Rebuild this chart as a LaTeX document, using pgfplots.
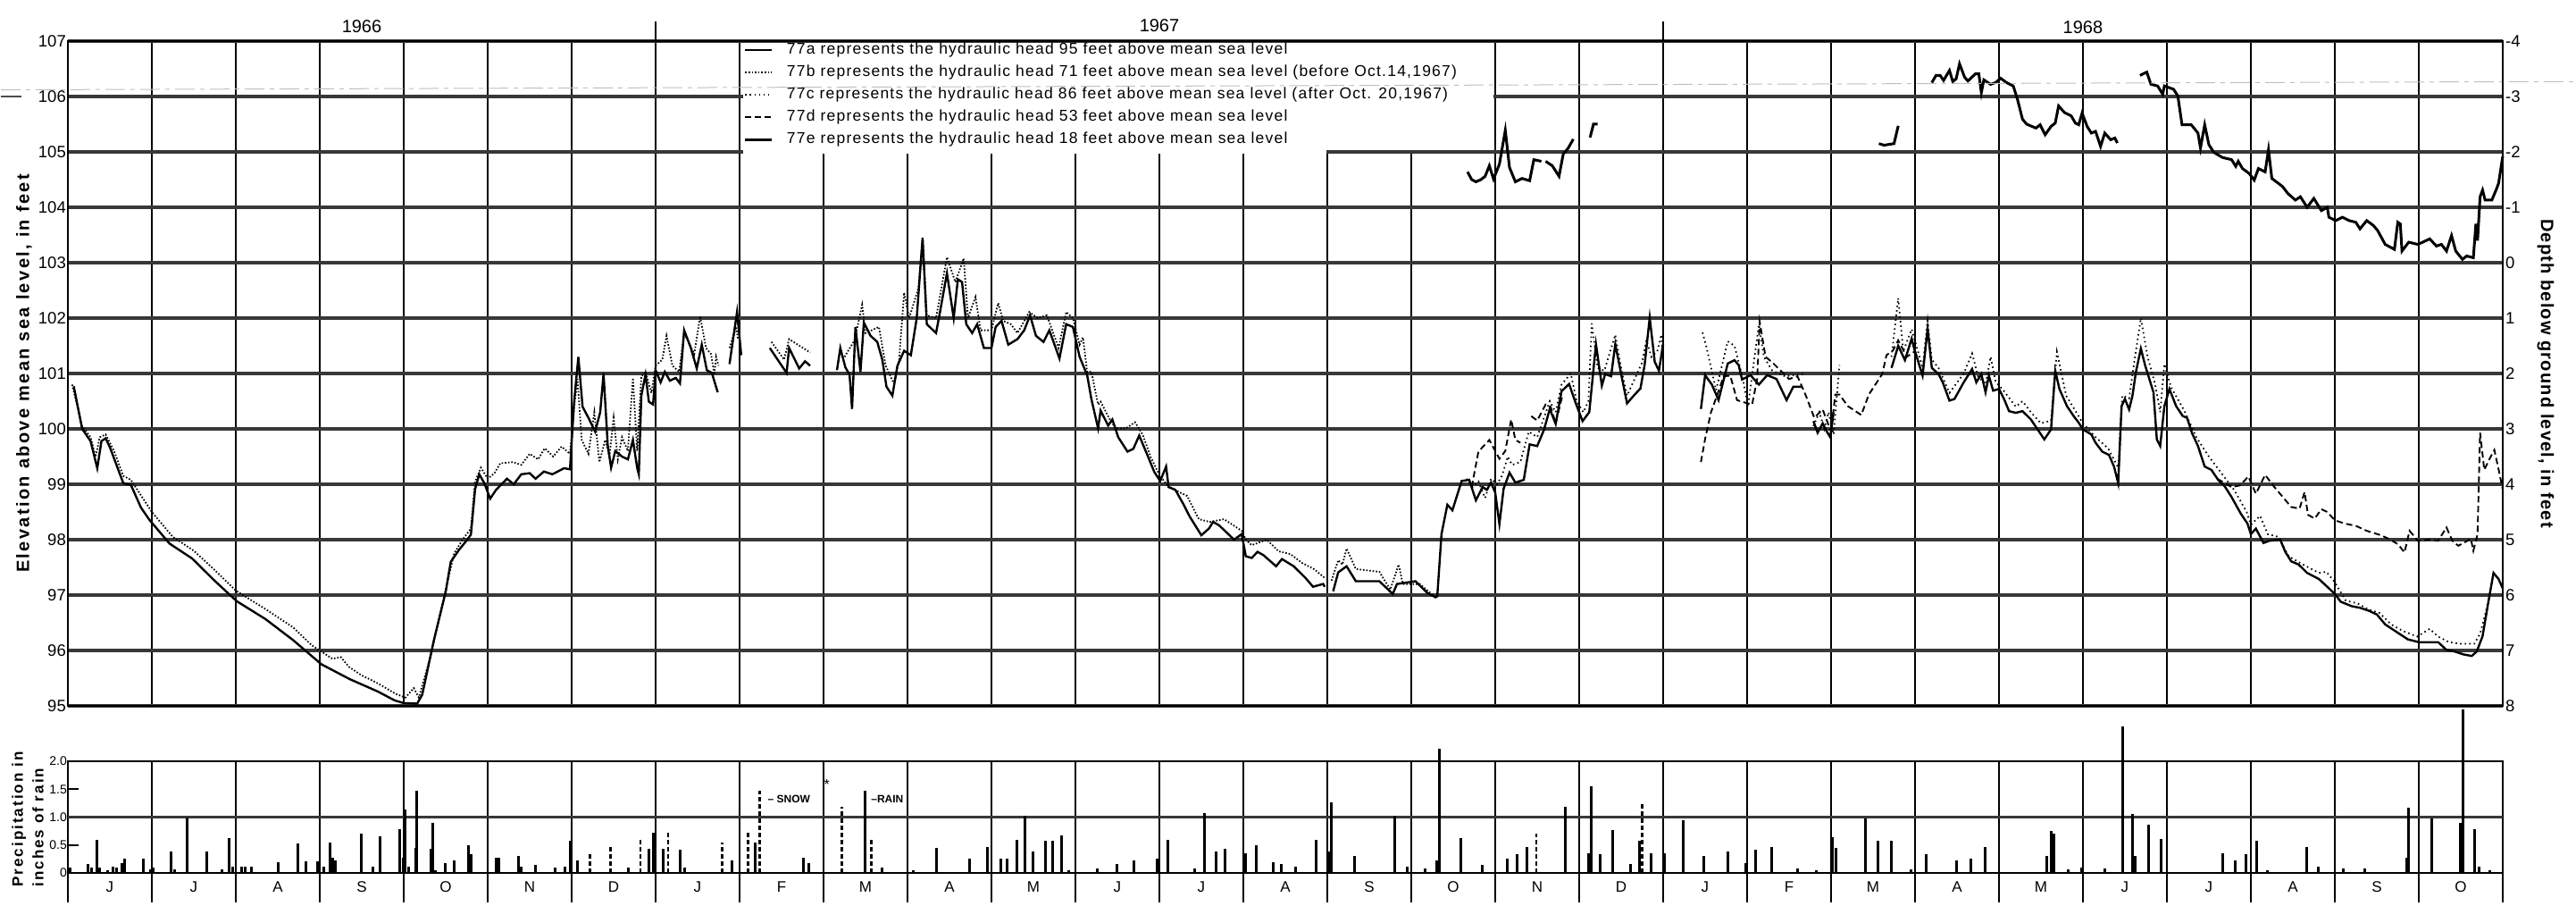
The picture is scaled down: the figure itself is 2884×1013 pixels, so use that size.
\documentclass[border=0pt]{standalone}
\usepackage{fontspec}
\setmainfont{Liberation Sans}
\newfontfamily\lblfont[LetterSpace=12]{Liberation Sans}
\newfontfamily\rlblfont[LetterSpace=6]{Liberation Sans}
\newfontfamily\legfont[LetterSpace=7]{Liberation Sans}
\usepackage{pgfplots}
\pgfplotsset{compat=1.18}
\newcommand{\fs}[1]{\fontsize{#1}{#1}\selectfont}

\begin{document}
\begin{tikzpicture}[x=1pt,y=1pt]
\useasboundingbox (-76,-223) rectangle (2808,790);

% ---------- water levels ----------
\begin{axis}[
  name=main, at={(0,0)}, anchor=south west,
  scale only axis, width=2726pt, height=744pt,
  xmin=0, xmax=29, ymin=95, ymax=107,
  clip=false, unbounded coords=jump,
  xtick={0,...,29}, xticklabels={},
  ytick={95,...,107},
  yticklabels={95,96,97,98,99,100,101,102,103,104,105,106,107},
  yticklabel style={font=\fs{18.5}, inner sep=2pt},
  major tick length=0pt,
  xmajorgrids, ymajorgrids,
  x grid style={black, line width=1.8pt},
  y grid style={black!78, line width=3.2pt},
  axis line style={black, line width=2pt},
  legend style={at={(axis cs:8.05,107.04)}, anchor=north west, draw=none, fill=none,
    font=\fs{17.5}\legfont, inner sep=0pt, row sep=0pt,
    nodes={inner xsep=3pt, inner ysep=4pt, text height=13pt, text depth=4pt},
    cells={anchor=west},
    /tikz/every odd column/.append style={column sep=12pt}},
  legend image code/.code={\draw[#1] (0pt,0pt) -- (30pt,0pt);},
]
\fill[white] (axis cs:8.04,106.965) rectangle (axis cs:16.975,105.035);
\fill[white] (axis cs:8.04,105.04) rectangle (axis cs:14.985,104.965);

% 77a
\addplot[black, line width=2.4pt] coordinates {
(0.07,100.77) (0.17,100.0) (0.27,99.78) (0.35,99.29) (0.40,99.78) (0.45,99.83) (0.5,99.67)
(0.66,99.02) (0.75,98.99) (0.87,98.58) (0.97,98.36) (1.21,97.93) (1.48,97.66) (1.74,97.27)
(2.01,96.89) (2.35,96.57) (2.68,96.19) (3.02,95.75) (3.36,95.48) (3.69,95.26) (3.89,95.10)
(4.0,95.05) (4.16,95.04) (4.22,95.2) (4.36,96.19) (4.50,97.06) (4.56,97.6) (4.66,97.82)
(4.72,97.93) (4.80,98.09) (4.85,98.91) (4.90,99.18) (4.96,99.02) (5.03,98.74) (5.1,98.9)
(5.23,99.1) (5.31,99.0) (5.4,99.18) (5.5,99.2) (5.57,99.1) (5.67,99.23) (5.77,99.18)
(5.91,99.29) (5.98,99.27)
(6.03,100.5) (6.08,101.3) (6.13,100.4) (6.2,100.2) (6.28,99.95) (6.34,100.3) (6.38,101.0)
(6.43,99.7) (6.47,99.3) (6.52,99.6) (6.6,99.5) (6.67,99.45) (6.73,99.8) (6.78,99.3) (6.8,99.18)
(6.83,100.6) (6.88,100.98) (6.92,100.49) (6.97,100.44) (7.0,101.06) (7.06,100.84) (7.11,101.03)
(7.17,100.87) (7.24,100.92) (7.29,100.82) (7.34,101.78) (7.42,101.46) (7.49,101.09)
(7.55,101.52) (7.61,101.06) (7.67,101.01) (7.74,100.66) (7.8,nan)
(7.88,101.17) (7.97,102.11) (8.02,101.33) (8.1,nan)
(8.36,101.46) (8.56,101.01) (8.59,101.46) (8.71,101.09) (8.78,101.22) (8.84,101.14) (9.0,nan)
(9.16,101.06) (9.2,101.46) (9.26,101.11) (9.31,100.98) (9.34,100.36) (9.38,101.84) (9.44,101.03)
(9.48,101.92) (9.56,101.68) (9.64,101.57) (9.7,101.25) (9.75,100.76) (9.82,100.6) (9.88,101.14)
(9.96,101.41) (10.04,101.33) (10.11,102.0) (10.18,103.45) (10.23,101.89) (10.34,101.73)
(10.38,102.05) (10.47,102.81) (10.55,102.0) (10.6,102.7) (10.65,102.65) (10.7,101.89)
(10.77,101.73) (10.83,101.89) (10.91,101.46) (11.0,101.46) (11.05,101.84) (11.12,101.95)
(11.2,101.52) (11.31,101.62) (11.39,101.78) (11.46,102.05) (11.53,101.68) (11.62,101.57)
(11.69,101.78) (11.81,101.27) (11.89,101.89) (11.97,101.84) (12.05,101.3) (12.14,100.97)
(12.19,100.54) (12.27,100.01) (12.3,100.33) (12.39,100.06) (12.44,100.17) (12.51,99.85)
(12.62,99.59) (12.69,99.64) (12.76,99.88) (12.87,99.48) (12.94,99.22) (13.01,99.06)
(13.08,99.32) (13.11,98.95) (13.19,98.9) (13.29,98.63) (13.36,98.42) (13.5,98.08) (13.59,98.2)
(13.64,98.32) (13.71,98.26) (13.78,98.16) (13.89,98.0) (13.98,98.1) (14.03,97.7) (14.1,97.67)
(14.17,97.78) (14.24,97.72) (14.39,97.52) (14.46,97.65) (14.6,97.52) (14.74,97.31)
(14.83,97.15) (14.95,97.2) (14.97,97.15) (15.02,nan)
(15.07,97.07) (15.13,97.41) (15.23,97.52) (15.34,97.25) (15.62,97.25) (15.78,97.02)
(15.83,97.2) (16.05,97.25) (16.19,97.04) (16.29,96.96) (16.31,96.98) (16.36,98.1) (16.43,98.63)
(16.49,98.53) (16.6,99.06) (16.69,99.08) (16.77,98.71) (16.85,98.95) (16.9,98.9) (16.95,99.03)
(17.0,98.85) (17.05,98.28) (17.1,98.92) (17.17,99.21) (17.24,99.03) (17.34,99.08) (17.41,99.72)
(17.5,99.69) (17.58,99.98) (17.65,100.36) (17.72,100.09) (17.79,100.68) (17.88,100.81)
(17.96,100.46) (18.04,100.14) (18.12,100.3) (18.2,101.53) (18.27,100.78) (18.31,100.99)
(18.38,100.95) (18.43,101.53) (18.5,100.99) (18.57,100.46) (18.65,100.6) (18.73,100.73)
(18.78,101.16) (18.84,102.01) (18.9,101.21) (18.95,101.05) (19.0,101.53) (19.2,nan)
(19.45,100.36) (19.5,100.97) (19.58,100.8) (19.66,100.52) (19.77,101.18) (19.85,101.24)
(19.9,101.15) (19.94,100.89) (20.04,100.97) (20.14,100.8) (20.24,100.97) (20.35,100.9)
(20.47,100.52) (20.55,100.76) (20.65,100.76) (20.72,nan)
(20.79,100.14) (20.84,99.93) (20.9,100.1) (20.95,99.95) (20.99,99.85) (21.03,100.3) (21.3,nan)
(21.72,101.1) (21.8,101.5) (21.88,101.24) (21.96,101.63) (21.99,101.45) (22.09,100.96)
(22.15,101.81) (22.2,101.1) (22.28,100.99) (22.33,100.84) (22.41,100.51) (22.47,100.54)
(22.58,100.84) (22.63,100.96) (22.68,101.08) (22.73,100.84) (22.79,100.99) (22.84,100.66)
(22.88,100.96) (22.93,100.69) (23.0,100.72) (23.06,100.54) (23.12,100.32) (23.2,100.29)
(23.28,100.32) (23.38,100.17) (23.46,99.99) (23.54,99.81) (23.62,99.99) (23.67,101.05)
(23.72,100.72) (23.81,100.41) (23.89,100.23) (23.95,100.11) (24.0,99.99) (24.1,99.9)
(24.15,99.75) (24.23,99.59) (24.31,99.53) (24.37,99.32) (24.42,99.02) (24.46,100.41)
(24.5,100.54) (24.55,100.35) (24.59,100.6) (24.63,101.02) (24.69,101.45) (24.74,101.15)
(24.84,100.66) (24.88,99.81) (24.92,99.69) (24.97,100.41) (25.03,100.72) (25.11,100.41)
(25.19,100.23) (25.24,100.2) (25.3,99.92) (25.37,99.69) (25.45,99.32) (25.53,99.26)
(25.61,99.08) (25.69,98.96) (25.77,98.77) (25.88,98.47) (25.96,98.29) (26.0,98.1) (26.06,98.2)
(26.15,97.94) (26.22,97.98) (26.35,98.0) (26.41,97.78) (26.48,97.61) (26.57,97.55) (26.67,97.4)
(26.81,97.29) (26.91,97.15) (27.0,97.02) (27.07,96.88) (27.2,96.8) (27.3,96.77) (27.4,96.72)
(27.5,96.65) (27.6,96.47) (27.73,96.34) (27.87,96.2) (28.0,96.15) (28.1,96.15) (28.23,96.15)
(28.33,96.01) (28.43,95.98) (28.53,95.93) (28.63,95.9) (28.69,95.98) (28.76,96.26) (28.82,96.8)
(28.89,97.4) (28.95,97.29) (29.0,97.12)};
\addlegendentry{77a represents the hydraulic head 95 feet above mean sea level}

% 77b
\addplot[black, line width=1.8pt, dash pattern=on 1.6pt off 2pt] coordinates {
(0.05,100.8) (0.17,100.05) (0.27,99.85) (0.33,99.5) (0.38,99.85) (0.45,99.9) (0.55,99.6)
(0.66,99.15) (0.75,99.08) (1.0,98.5) (1.25,98.05) (1.5,97.8) (1.75,97.45) (2.0,97.08)
(2.35,96.75) (2.68,96.42) (2.9,96.1) (3.05,95.95) (3.15,95.85) (3.25,95.88) (3.35,95.7)
(3.5,95.55) (3.7,95.4) (3.9,95.22) (4.02,95.15) (4.12,95.32) (4.18,95.15) (4.32,95.9)
(4.5,97.1) (4.6,97.75) (4.7,98.0) (4.8,98.2) (4.85,99.05) (4.92,99.3) (5.0,99.1) (5.08,99.2)
(5.15,99.38) (5.3,99.4) (5.4,99.35) (5.5,99.55) (5.6,99.45) (5.68,99.65) (5.78,99.5)
(5.88,99.68) (5.98,99.55)
(6.03,100.4) (6.07,100.9) (6.12,99.8) (6.2,99.55) (6.27,100.3) (6.33,99.4) (6.4,99.8)
(6.45,99.5) (6.5,100.2) (6.55,99.45) (6.6,99.85) (6.67,99.6) (6.73,100.92) (6.78,99.6)
(6.83,100.95) (6.88,101.03) (6.95,100.65) (7.0,101.14) (7.08,101.25) (7.13,101.68) (7.2,101.14)
(7.28,101.03) (7.34,101.73) (7.46,101.35) (7.53,102.03) (7.6,101.46) (7.66,101.35) (7.7,100.98)
(7.72,101.3) (7.75,101.14) (7.8,nan)
(7.88,101.46) (7.96,101.84) (7.98,101.62) (8.1,nan)
(8.38,101.57) (8.53,101.25) (8.59,101.62) (8.84,101.38) (9.0,nan)
(9.25,101.3) (9.37,101.6) (9.46,102.24) (9.5,101.73) (9.66,101.84) (9.74,101.14) (9.84,100.81)
(9.9,101.25) (9.96,102.46) (10.02,102.0) (10.13,102.54) (10.18,103.45) (10.23,102.05)
(10.34,102.0) (10.47,103.1) (10.57,102.65) (10.67,103.08) (10.72,102.0) (10.81,102.38)
(10.87,101.78) (11.0,101.78) (11.08,102.27) (11.14,101.95) (11.23,101.89) (11.31,101.73)
(11.45,102.11) (11.55,102.0) (11.66,102.05) (11.8,101.46) (11.89,102.11) (11.97,102.0)
(12.05,101.52) (12.09,101.65) (12.14,101.03) (12.19,101.03) (12.27,100.44) (12.3,100.49)
(12.41,100.17) (12.48,100.01) (12.6,100.01) (12.71,100.12) (12.8,99.9) (12.9,99.48) (13.0,99.17)
(13.11,98.95) (13.33,98.79) (13.47,98.37) (13.6,98.32) (13.77,98.37) (13.98,98.16) (14.03,98.0)
(14.1,97.9) (14.28,98.0) (14.42,97.79) (14.56,97.74) (14.7,97.58) (14.84,97.47) (14.97,97.31)
(15.01,nan)
(15.05,97.26) (15.13,97.63) (15.18,97.55) (15.23,97.84) (15.34,97.47) (15.62,97.42)
(15.75,97.1) (15.85,97.55) (15.9,97.2) (16.1,97.2) (16.29,96.96) (16.33,97.0)};
\addlegendentry{77b represents the hydraulic head 71 feet above mean sea level (before Oct.14,1967)}

% 77c
\addplot[black, line width=1.8pt, dash pattern=on 1.6pt off 3.5pt] coordinates {
(16.66,99.1) (16.73,98.95) (16.8,99.05) (16.88,98.75) (16.95,99.1) (17.02,99.0) (17.08,99.15)
(17.15,99.5) (17.2,99.35) (17.3,99.4) (17.4,99.95) (17.5,99.85) (17.58,100.2) (17.65,100.5)
(17.72,100.3) (17.79,100.8) (17.9,101.0) (17.97,100.5) (18.05,100.3) (18.11,100.5) (18.15,101.9)
(18.22,101.1) (18.3,101.05) (18.43,101.7) (18.5,101.1) (18.57,100.6) (18.66,100.9) (18.75,101.2)
(18.8,101.6) (18.86,101.3) (18.93,101.4) (18.98,101.7) (19.0,101.2) (19.2,nan)
(19.47,101.74) (19.52,101.45) (19.63,100.7) (19.77,101.58) (19.85,101.5) (19.95,100.9)
(20.01,100.4) (20.14,101.88) (20.2,101.3) (20.3,101.05) (20.45,100.95) (20.67,100.99) (20.72,nan)
(20.79,100.05) (20.86,100.3) (20.92,100.0) (20.97,100.3) (21.03,99.9) (21.1,101.15) (21.3,nan)
(21.72,101.3) (21.8,102.36) (21.86,101.4) (21.96,101.8) (22.09,101.1) (22.15,101.95)
(22.2,101.25) (22.28,101.1) (22.41,100.65) (22.58,101.0) (22.68,101.36) (22.75,100.95)
(22.84,100.8) (22.9,101.3) (22.96,100.85) (23.05,100.7) (23.2,100.4) (23.28,100.5) (23.38,100.3)
(23.5,100.1) (23.62,100.15) (23.69,101.39) (23.8,100.6) (23.9,100.35) (24.0,100.1) (24.15,99.85)
(24.3,99.65) (24.42,99.3) (24.47,100.6) (24.55,100.55) (24.62,101.3) (24.69,102.0) (24.77,101.3)
(24.86,100.8) (24.92,100.3) (24.97,101.17) (25.05,100.75) (25.2,100.35) (25.35,99.85)
(25.5,99.5) (25.65,99.2) (25.8,98.9) (25.95,98.5) (26.0,98.27) (26.11,98.43) (26.2,98.1)
(26.33,98.05) (26.45,97.7) (26.61,97.56) (26.81,97.4) (26.9,97.42) (27.0,97.23) (27.13,96.9)
(27.27,96.85) (27.4,96.74) (27.53,96.68) (27.67,96.47) (27.8,96.36) (27.98,96.25) (28.13,96.39)
(28.23,96.25) (28.36,96.15) (28.5,96.12) (28.66,96.12) (28.73,96.3) (28.8,96.7) (28.86,97.12)};
\addlegendentry{77c represents the hydraulic head 86 feet above mean sea level (after Oct. 20,1967)}

% 77d
\addplot[black, line width=1.9pt, dash pattern=on 7pt off 4pt] coordinates {
(16.72,98.95) (16.8,99.59) (16.93,99.8) (17.05,99.46) (17.12,99.6) (17.19,100.17) (17.24,99.8)
(17.3,99.75) (17.36,nan)
(17.43,100.23) (17.5,100.15) (17.6,100.44) (17.66,100.4) (17.72,100.1) (17.8,100.6) (19.2,nan)
(19.45,99.4) (19.5,99.82) (19.57,100.3) (19.66,100.68) (19.72,100.95) (19.8,100.96)
(19.88,100.52) (19.96,100.48) (20.06,100.44) (20.12,100.9) (20.15,101.93) (20.22,101.3)
(20.3,101.2) (20.4,101.05) (20.5,100.9) (20.6,100.95) (20.7,100.6) (20.8,100.2) (20.9,100.35)
(21.0,99.95) (21.05,100.62) (21.1,100.62) (21.2,100.41) (21.36,100.25) (21.45,100.62)
(21.61,100.99) (21.66,101.33) (21.74,101.42) (21.8,101.6) (21.9,101.3) (22.0,101.4) (23.0,nan)
(25.6,99.1) (25.77,98.95) (25.87,98.98) (25.97,99.14) (26.06,98.83) (26.17,99.17) (26.28,98.95)
(26.38,98.77) (26.48,98.59) (26.58,98.56) (26.64,98.86) (26.68,98.45) (26.76,98.38)
(26.84,98.55) (26.91,98.5) (27.0,98.35) (27.12,98.29) (27.25,98.25) (27.38,98.16) (27.55,98.08)
(27.65,98.01) (27.75,97.92) (27.83,97.77) (27.89,98.16) (27.99,97.98) (28.13,98.0) (28.23,97.98)
(28.33,98.22) (28.4,97.98) (28.47,97.89) (28.58,97.98) (28.62,98.02) (28.65,97.8) (28.7,98.1)
(28.73,99.93) (28.78,99.26) (28.84,99.45) (28.9,99.62) (28.96,99.2) (29.0,98.9)};
\addlegendentry{77d represents the hydraulic head 53 feet above mean sea level}

% 77e
\addplot[black, line width=3pt] coordinates {
(16.67,104.64) (16.72,104.5) (16.77,104.46) (16.83,104.5) (16.88,104.56) (16.93,104.75)
(16.98,104.51) (17.05,104.78) (17.12,105.39) (17.17,104.72) (17.24,104.46) (17.32,104.52)
(17.41,104.48) (17.46,104.86) (17.55,104.83) (17.57,nan)
(17.6,104.83) (17.68,104.75) (17.76,104.56) (17.81,104.96) (17.87,105.07) (17.93,105.23) (18.0,nan)
(18.13,105.26) (18.17,105.5) (18.22,105.5) (18.3,nan)
(21.57,105.15) (21.63,105.12) (21.75,105.15) (21.8,105.47) (21.9,nan)
(22.2,106.25) (22.25,106.38) (22.3,106.38) (22.34,106.29) (22.41,106.47) (22.45,106.27)
(22.49,106.32) (22.53,106.59) (22.59,106.35) (22.63,106.28) (22.72,106.41) (22.76,106.41)
(22.79,106.07) (22.82,106.3) (22.9,106.22) (22.96,106.25) (23.02,106.33) (23.09,106.25)
(23.17,106.19) (23.22,105.95) (23.28,105.59) (23.33,105.5) (23.44,105.43) (23.49,105.49)
(23.55,105.31) (23.62,105.46) (23.67,105.52) (23.71,105.83) (23.78,105.71) (23.86,105.65)
(23.91,105.52) (23.95,105.49) (23.99,105.7) (24.05,105.46) (24.1,105.34) (24.15,105.37)
(24.21,105.1) (24.26,105.34) (24.33,105.22) (24.38,105.25) (24.41,105.16) (24.5,nan)
(24.68,106.38) (24.76,106.44) (24.81,106.22) (24.89,106.19) (24.95,106.04) (24.97,106.19)
(25.08,106.13) (25.13,106.01) (25.18,105.49) (25.29,105.49) (25.37,105.34) (25.4,105.07)
(25.45,105.49) (25.5,105.13) (25.56,104.99) (25.66,104.9) (25.77,104.86) (25.82,104.74)
(25.85,104.83) (25.9,104.7) (25.98,104.61) (26.04,104.49) (26.09,104.7) (26.17,104.64)
(26.21,105.04) (26.25,104.52) (26.33,104.43) (26.38,104.37) (26.44,104.25) (26.53,104.13)
(26.59,104.19) (26.67,104.0) (26.75,104.16) (26.84,103.94) (26.91,104.0) (26.93,103.82)
(27.01,103.76) (27.09,103.82) (27.17,103.76) (27.25,103.73) (27.3,103.61) (27.38,103.76)
(27.46,103.67) (27.51,103.58) (27.6,103.33) (27.71,103.24) (27.75,103.73) (27.78,103.7)
(27.8,103.21) (27.88,103.37) (27.99,103.33) (28.13,103.43) (28.21,103.3) (28.27,103.33)
(28.33,103.21) (28.39,103.49) (28.44,103.21) (28.52,103.06) (28.57,103.12) (28.65,103.09)
(28.68,103.7) (28.7,103.4) (28.73,104.19) (28.76,104.31) (28.79,104.13) (28.87,104.13)
(28.92,104.31) (28.95,104.43) (29.0,104.92)};
\addlegendentry{77e represents the hydraulic head 18 feet above mean sea level}

% faint pencil line
\addplot[black!25, line width=1pt, dash pattern=on 22pt off 6pt on 5pt off 6pt, forget plot]
  coordinates {(-0.8,106.12) (29.87,106.27)};
% stub of the 106 line left of the frame
\addplot[black!70, line width=2pt, forget plot] coordinates {(-0.8,106.0) (-0.55,106.0)};

\node[font=\fs{20}, yshift=16pt] at (axis cs:3.5,107) {1966};
\node[font=\fs{20}, yshift=17pt] at (axis cs:13,107) {1967};
\node[font=\fs{20}, yshift=15pt] at (axis cs:24,107) {1968};
\draw[line width=1.8pt] (axis cs:7,107) -- ++(0pt,22pt);
\draw[line width=1.8pt] (axis cs:19,107) -- ++(0pt,22pt);
\end{axis}

% ---------- depth scale ----------
\begin{axis}[
  at={(0,0)}, anchor=south west,
  scale only axis, width=2726pt, height=744pt,
  xmin=0, xmax=29, ymin=-4, ymax=8, y dir=reverse,
  axis x line=none, axis y line*=right,
  axis line style={black, line width=2pt},
  ytick={-4,...,8},
  yticklabels={-4,-3,-2,-1,0,1,2,3,4,5,6,7,8},
  yticklabel style={font=\fs{18.5}, inner sep=3pt},
  major tick length=0pt,
]
\addplot[draw=none, forget plot] coordinates {(0,0) (29,0)};
\end{axis}

% ---------- precipitation ----------
\begin{scope}[yshift=-187pt]
\begin{axis}[
  name=prec, at={(0,0)}, anchor=origin,
  scale only axis, width=2726pt, height=125pt,
  xmin=0, xmax=29, ymin=0, ymax=2, clip=false,
  tick pos=left,
  xtick={0.5,1.5,...,28.5},
  xticklabels={J,J,A,S,O,N,D,J,F,M,A,M,J,J,A,S,O,N,D,J,F,M,A,M,J,J,A,S,O},
  xticklabel style={font=\fs{17}, yshift=-6pt},
  major tick length=0pt,
  extra x ticks={0,...,29}, extra x tick labels={},
  extra x tick style={xmajorgrids=true, major tick length=33pt, tick align=outside,
    tick style={draw=black, line width=2.6pt}},
  x grid style={black, line width=1.8pt},
  ytick={0,0.5,1,1.5,2},
  yticklabels={0,0.5,1.0,1.5,2.0},
  yticklabel style={font=\fs{14}, inner sep=1pt},
  extra y ticks={0.5,1.5}, extra y tick labels={},
  extra y tick style={major tick length=12pt, tick align=inside,
    tick style={draw=black, line width=1.6pt}},
  axis line style={black, line width=2pt},
]
\addplot[black!78, line width=3pt, forget plot] coordinates {(0,1) (29,1)};
\addplot[ycomb, black, line width=3pt] coordinates {
(0.03,0.09) (0.24,0.16) (0.28,0.1) (0.35,0.59) (0.38,0.09) (0.47,0.05) (0.54,0.12) (0.58,0.09)
(0.64,0.17) (0.68,0.25) (0.9,0.25) (0.98,0.07) (1.02,0.09) (1.23,0.38) (1.27,0.07) (1.42,1.0)
(1.65,0.39) (1.83,0.06) (1.92,0.62) (1.96,0.12) (2.07,0.12) (2.11,0.12) (2.19,0.11) (2.51,0.2)
(2.74,0.53) (2.84,0.21) (2.97,0.21) (3.05,0.11) (3.12,0.55) (3.15,0.28) (3.19,0.23) (3.49,0.7)
(3.63,0.12) (3.72,0.66) (3.95,0.79) (3.99,0.28) (4.02,1.13) (4.06,0.12) (4.14,0.45) (4.15,1.47)
(4.32,0.43) (4.35,0.89) (4.38,0.05) (4.5,0.17) (4.6,0.23) (4.77,0.5) (4.8,0.33) (5.1,0.28)
(5.13,0.28) (5.37,0.31) (5.4,0.12) (5.57,0.15) (5.8,0.09) (5.92,0.12) (5.98,0.58) (6.07,0.23)
(6.68,0.09) (6.92,0.44) (6.97,0.72) (7.09,0.44) (7.29,0.42) (7.35,0.09) (7.91,0.23) (8.19,0.55)
(8.76,0.28) (8.82,0.17) (9.5,1.47) (9.7,0.1) (10.07,0.05) (10.35,0.45) (10.74,0.25) (10.95,0.47)
(11.11,0.25) (11.19,0.25) (11.3,0.6) (11.4,1.03) (11.5,0.38) (11.64,0.58) (11.73,0.58)
(11.83,0.68) (11.92,0.05) (12.26,0.08) (12.5,0.16) (12.7,0.22) (12.97,0.25) (13.1,0.6)
(13.42,0.08) (13.54,1.08) (13.68,0.38) (13.78,0.44) (14.03,0.36) (14.15,0.49) (14.36,0.19)
(14.45,0.16) (14.62,0.11) (14.87,0.6) (15.02,0.38) (15.05,1.27) (15.32,0.3) (15.8,1.03)
(15.95,0.11) (16.17,0.08) (16.3,0.22) (16.34,2.22) (16.59,0.62) (16.85,0.14) (17.14,0.25)
(17.26,0.33) (17.38,0.47) (17.83,1.19) (18.11,0.36) (18.14,1.56) (18.25,0.33) (18.4,0.77)
(18.61,0.16) (18.72,0.58) (18.86,0.36) (19.02,0.36) (19.24,0.94) (19.48,0.3) (19.77,0.39)
(19.98,0.18) (20.1,0.42) (20.29,0.46) (20.6,0.08) (20.82,0.05) (21.02,0.64) (21.06,0.45)
(21.41,0.98) (21.56,0.57) (21.72,0.57) (21.95,0.06) (22.13,0.34) (22.5,0.23) (22.67,0.26)
(22.84,0.46) (23.57,0.31) (23.62,0.75) (23.65,0.7) (23.82,0.06) (23.98,0.1) (24.26,0.08)
(24.47,2.62) (24.59,1.05) (24.62,0.3) (24.78,0.86) (24.93,0.61) (25.66,0.35) (25.81,0.23)
(25.94,0.34) (26.07,0.57) (26.2,0.05) (26.67,0.46) (26.8,0.12) (27.1,0.08) (27.36,0.08)
(27.86,0.27) (27.88,1.17) (28.15,0.98) (28.49,0.89) (28.53,2.93) (28.66,0.79) (28.72,0.12)
(28.85,0.05)};
\addplot[ycomb, black, line width=2.6pt, dash pattern=on 5pt off 3pt] coordinates {
(6.22,0.36) (6.46,0.47) (6.82,0.61) (7.15,0.74) (7.79,0.55) (8.1,0.72) (8.24,1.47) (9.22,1.18)
(9.57,0.61) (17.49,0.7) (18.75,1.27)};
\node[anchor=west, font=\fs{12}\bfseries] at (axis cs:8.3,1.32) {-- SNOW};
\node[font=\fs{16}] at (axis cs:9.04,1.58) {*};
\node[anchor=west, font=\fs{12}\bfseries] at (axis cs:9.53,1.32) {--RAIN};
\end{axis}
\end{scope}

% ---------- axis titles ----------
\node[rotate=90, font=\fs{20}\bfseries\lblfont] at (-49,372) {Elevation above mean sea level, in feet};
\node[rotate=-90, font=\fs{20}\bfseries\rlblfont] at (2774,372) {Depth below ground level, in feet};
\node[rotate=90, align=left, font=\fontsize{17}{23}\selectfont\bfseries\lblfont] at (-45,-127)
  {Precipitation in\\inches of rain};
\end{tikzpicture}
\end{document}
